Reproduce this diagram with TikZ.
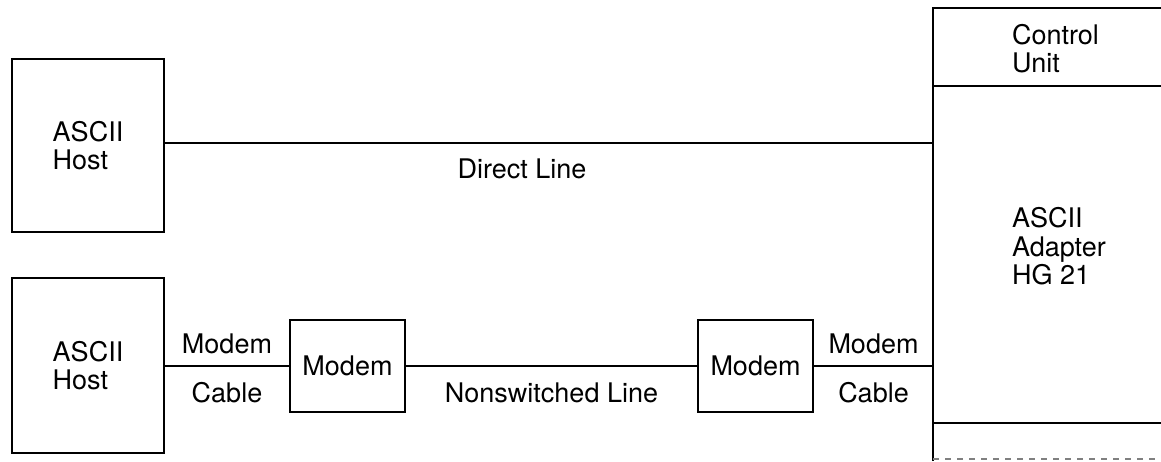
\documentclass[tikz,border=0pt]{standalone}
\usepackage{fontspec}
\setmainfont{TeX Gyre Heros}
\begin{document}
\begin{tikzpicture}[x=0.5pt,y=-0.5pt,line width=1pt,
  font=\fontsize{13.5}{14.25}\selectfont,
  unitbox/.style={draw,inner sep=0pt,align=left},
  modembox/.style={unitbox,minimum width=57.5pt,minimum height=46pt},
  boxtext/.style={align=left,anchor=west,inner sep=0pt}]
\useasboundingbox (0,0) rectangle (1161,461);
\node[unitbox,minimum width=76pt,minimum height=86.5pt] (hostA) at (88,145.5) {ASCII\\Host};
\node[unitbox,minimum width=76pt,minimum height=87.5pt] (hostB) at (88,365.5) {ASCII\\Host};
\node[modembox] (modemA) at (347.5,366) {Modem};
\node[modembox] (modemB) at (755.5,366) {Modem};
% control unit, cut off at the right edge
\draw (933,461) -- (933,8) -- (1200,8);
\draw (933,86) -- (1200,86);
\draw (933,423) -- (1200,423);
\draw[dashed,line width=0.6pt,gray] (933,459) -- (1161,459);
\node[boxtext] (ctrl) at (1011,48.5) {Control\\Unit};
\node[boxtext] (adapter) at (1011,246.5) {ASCII\\Adapter\\HG 21};
\coordinate (direct) at (933,143);
\coordinate (cable) at (933,366);
% lines
\draw (hostA.east |- direct) -- node[pos=0.465,anchor=base,yshift=-17.5pt] {Direct Line} (direct);
\draw (hostB.east |- modemA.west) -- node[anchor=base,yshift=6.5pt] {Modem}
  node[anchor=base,yshift=-18pt] {Cable} (modemA.west);
\draw (modemA.east) -- node[anchor=base,yshift=-18pt] {Nonswitched Line} (modemB.west);
\draw (modemB.east) -- node[anchor=base,yshift=6.5pt] {Modem}
  node[anchor=base,yshift=-18pt] {Cable} (cable);
\end{tikzpicture}
\end{document}
